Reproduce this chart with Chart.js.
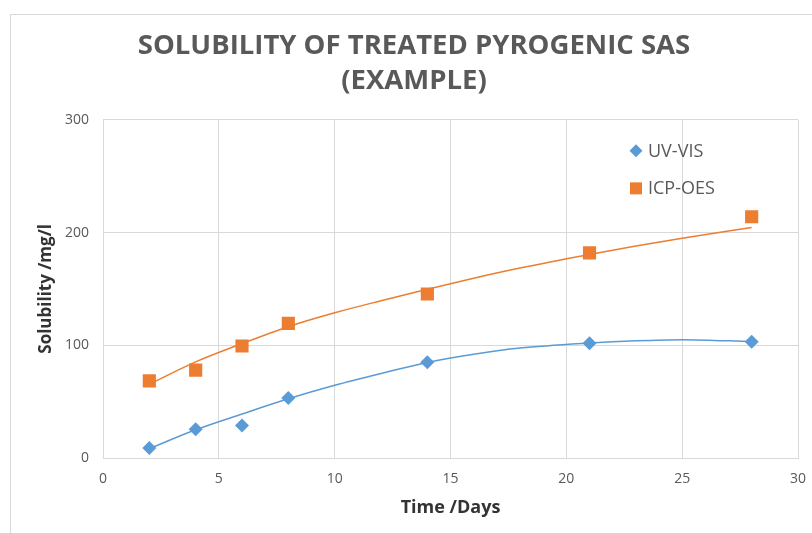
<!DOCTYPE html>
<html>
<head>
  <meta charset="utf-8">
  <title>Solubility of treated pyrogenic SAS</title>
  <style>
    html, body { margin: 0; padding: 0; background: #fff; }
    #wrap { position: relative; width: 812px; height: 533px; overflow: hidden; }
    #frame { position: absolute; left: 10px; top: 14px; width: 900px; height: 600px;
             border-left: 1px solid #d9d9d9; border-top: 1px solid #d9d9d9; }
    #solChart { position: absolute; left: 0; top: 0; }
  </style>
</head>
<body>
<div id="wrap">
  <div id="frame"></div>
  <canvas id="solChart" width="812" height="533"></canvas>
</div>
<script src="https://cdn.jsdelivr.net/npm/chart.js"></script>
<script type="text/javascript">
    // measured values
    const days = [2, 4, 6, 8, 14, 21, 28];
    const uvVis = [8.9, 25.5, 28.9, 53.2, 85, 101.7, 103.2];
    const icpOes = [68.4, 78, 99.4, 119.5, 145.5, 182, 214];

    // trendlines
    const trendDays = [2, 4, 6, 8, 10, 12, 14, 16, 18, 21, 23, 25, 28];
    const uvTrend = [8.3, 25, 39, 52.5, 64.5, 75, 84.8, 92, 97.5, 102, 104, 105, 103.2];
    const icpTrend = [65.5, 85.3, 101.5, 116.5, 128.8, 139.5, 149.7, 159.5, 168.5, 180.5, 188, 195, 204.4];

    const xTicks = [0, 5, 10, 15, 20, 25, 30];
    const yTicks = [0, 100, 200, 300];

    const blue = '#5b9bd5';
    const orange = '#ed7d31';

    function pts(xs, ys) {
      return xs.map((x, i) => ({ x: x, y: ys[i] }));
    }

    // legend drawn inside the plot area
    const innerLegend = {
      id: 'innerLegend',
      afterDatasetsDraw(chart) {
        const ctx = chart.ctx;
        const area = chart.chartArea;
        const items = chart.data.datasets.filter(d => d.inLegend);
        ctx.save();
        ctx.font = '18px "Open Sans"';
        ctx.textBaseline = 'middle';
        items.forEach((d, i) => {
          const mx = area.right - 162;
          const my = area.top + 31 + i * 37.5;
          ctx.fillStyle = d.backgroundColor;
          ctx.beginPath();
          if (d.pointStyle === 'rect') {
            ctx.rect(mx - 6, my - 6, 12, 12);
          } else {
            ctx.moveTo(mx, my - 6.5); ctx.lineTo(mx + 6.5, my); ctx.lineTo(mx, my + 6.5); ctx.lineTo(mx - 6.5, my);
            ctx.closePath();
          }
          ctx.fill();
          ctx.fillStyle = '#595959';
          ctx.fillText(d.label, mx + 12, my + 1);
        });
        ctx.restore();
      }
    };

    const data = {
      datasets: [
        {
          type: 'line',
          label: 'UV-VIS trend',
          data: pts(trendDays, uvTrend),
          borderColor: blue,
          borderWidth: 1.5,
          pointRadius: 0,
          fill: false,
          cubicInterpolationMode: 'monotone'
        },
        {
          type: 'line',
          label: 'ICP-OES trend',
          data: pts(trendDays, icpTrend),
          borderColor: orange,
          borderWidth: 1.5,
          pointRadius: 0,
          fill: false,
          cubicInterpolationMode: 'monotone'
        },
        {
          label: 'UV-VIS',
          data: pts(days, uvVis),
          pointStyle: 'rectRot',
          pointRadius: 7,
          backgroundColor: blue,
          borderColor: blue,
          borderWidth: 0,
          inLegend: true
        },
        {
          label: 'ICP-OES',
          data: pts(days, icpOes),
          pointStyle: 'rect',
          pointRadius: 9.3,
          backgroundColor: orange,
          borderColor: orange,
          borderWidth: 0,
          inLegend: true
        }
      ]
    };

    const config = {
      type: 'scatter',
      data: data,
      plugins: [innerLegend],
      options: {
        responsive: false,
        animation: false,
        layout: { autoPadding: false, padding: { left: 30, right: 14, top: 0, bottom: 0 } },
        plugins: {
          legend: { display: false },
          tooltip: { enabled: false },
          title: {
            display: true,
            text: ['SOLUBILITY OF TREATED PYROGENIC SAS', '(EXAMPLE)'],
            color: '#595959',
            font: { family: 'Open Sans', size: 27.5, weight: 'bold', lineHeight: 1.27 },
            padding: { top: 29, bottom: 21 }
          }
        },
        scales: {
          x: {
            type: 'linear',
            min: 0, max: 30,
            afterBuildTicks: s => { s.ticks = xTicks.map(v => ({ value: v })); },
            afterFit: s => { s.height = 75; s.paddingLeft = 0; s.paddingRight = 0; },
            grid: { color: '#d9d9d9', lineWidth: 1, drawTicks: false },
            border: { color: '#d9d9d9', width: 1 },
            ticks: { color: '#595959', font: { family: 'Open Sans', size: 14 }, padding: 13 },
            title: {
              display: true, text: 'Time /Days', color: '#333',
              font: { family: 'Open Sans', size: 18, weight: 'bold', lineHeight: 1.2 },
              padding: { top: 0, bottom: 14 }
            }
          },
          y: {
            type: 'linear',
            min: 0, max: 300,
            afterBuildTicks: s => { s.ticks = yTicks.map(v => ({ value: v })); },
            afterFit: s => { s.width = 73; s.paddingTop = 0; s.paddingBottom = 0; },
            grid: { color: '#d9d9d9', lineWidth: 1, drawTicks: false },
            border: { color: '#d9d9d9', width: 1 },
            ticks: { color: '#595959', font: { family: 'Open Sans', size: 14 }, padding: 14 },
            title: {
              display: true, text: 'Solubility /mg/l', color: '#333',
              font: { family: 'Open Sans', size: 17, weight: 'bold', lineHeight: 1.2 },
              padding: { top: 6, bottom: 0 }
            }
          }
        }
      }
    };

    const solChart = new Chart(document.getElementById('solChart'), config);
</script>
</body>
</html>
